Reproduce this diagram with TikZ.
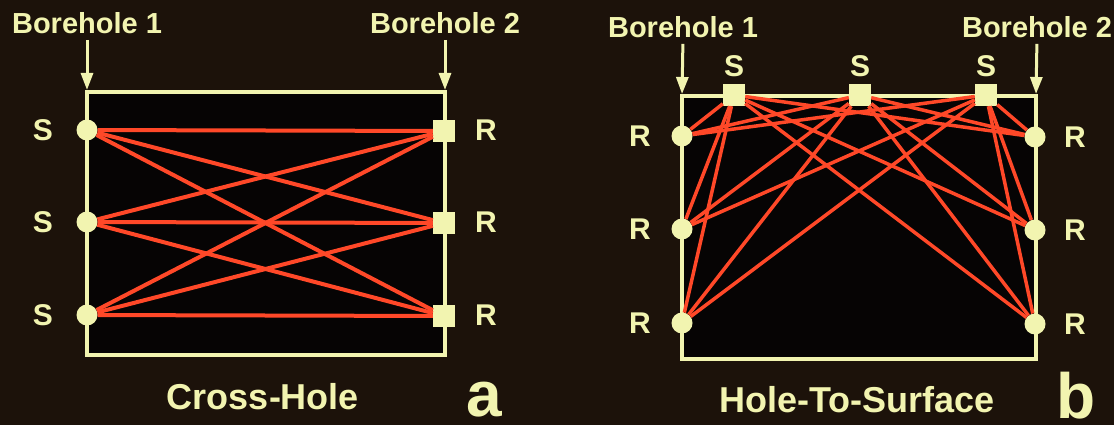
\documentclass[tikz,border=0pt]{standalone}
\usepackage{fontspec}
\setmainfont{Liberation Sans}
\usetikzlibrary{arrows.meta}
\definecolor{slidebg}{RGB}{28,18,10}
\definecolor{holebg}{RGB}{6,4,4}
\definecolor{wellcol}{RGB}{242,244,176}
\definecolor{raycol}{RGB}{255,72,40}

\begin{document}
\begin{tikzpicture}[x=1pt,y=-1pt,
  wall/.style={wellcol,line width=4pt,fill=holebg},
  ray/.style={raycol,line width=4pt},
  down/.style={wellcol,line width=3pt,shorten <=6pt,shorten >=2pt,
    -{Triangle[width=12pt,length=17pt]}},
  src/.style={circle,fill=wellcol,minimum size=21pt,inner sep=0pt},
  box/.style={rectangle,fill=wellcol,minimum size=22pt,inner sep=0pt},
  txt/.style={text=wellcol,inner sep=0pt,font=\bfseries\fontsize{#1}{#1}\selectfont},
  txt/.default=30]
\fill[slidebg] (0,0) rectangle (1114,425);
\useasboundingbox (0,0) rectangle (1114,425);

% (a) cross-hole
\coordinate (aTL) at (87,92);
\coordinate (aTR) at (445,92);
\draw[wall] (aTL) rectangle (445,355);
\node[txt=29] (aB1) at (87,23) {Borehole 1};
\node[txt=29] (aB2) at (445,23) {Borehole 2};
\draw[down] (aB1.south) -- (aTL);
\draw[down] (aB2.south) -- (aTR);
\foreach \n/\y in {1/130,2/222,3/315} {
  \node[src] (aS\n) at (87,\y) {};
  \node[box] (aR\n) at (444,\y+1) {};
  \node[txt] (aSl\n) at (43,\y) {S};
  \node[txt] (aRl\n) at (486,\y) {R};
}
\foreach \i in {1,2,3}
  \foreach \j in {1,2,3}
    \draw[ray] (aS\i) -- (aR\j);
\node[txt=36] (aCap) at (263,397) {Cross-Hole};
\node[txt=64] (aTag) at (484,400) {a};

% (b) hole-to-surface
\coordinate (bTL) at (682,96);
\coordinate (bTR) at (1036,96);
\draw[wall] (bTL) rectangle (1036,359);
\node[txt=29] (bB1) at (683,27) {Borehole 1};
\node[txt=29] (bB2) at (1037,27) {Borehole 2};
\draw[down] (bB1.south) -- (bTL);
\draw[down] (bB2.south) -- (bTR);
\foreach \n/\x in {1/734,2/860,3/986} {
  \node[box] (bS\n) at (\x,95) {};
  \node[txt] (bSl\n) at (\x,66) {S};
}
\foreach \n/\y in {1/136,2/229,3/323} {
  \node[src] (bL\n) at (682,\y) {};
  \node[src] (bR\n) at (1035,\y+1) {};
  \node[txt] (bLl\n) at (640,\y) {R};
  \node[txt] (bRl\n) at (1075,\y+1) {R};
}
\foreach \i in {1,2,3}
  \foreach \j in {1,2,3} {
    \draw[ray,line width=3.5pt] (bS\i) -- (bL\j);
    \draw[ray,line width=3.5pt] (bS\i) -- (bR\j);
  }
\node[txt=36] (bCap) at (857,400) {Hole-To-Surface};
\node[txt=64] (bTag) at (1076,396) {b};
\end{tikzpicture}
\end{document}
